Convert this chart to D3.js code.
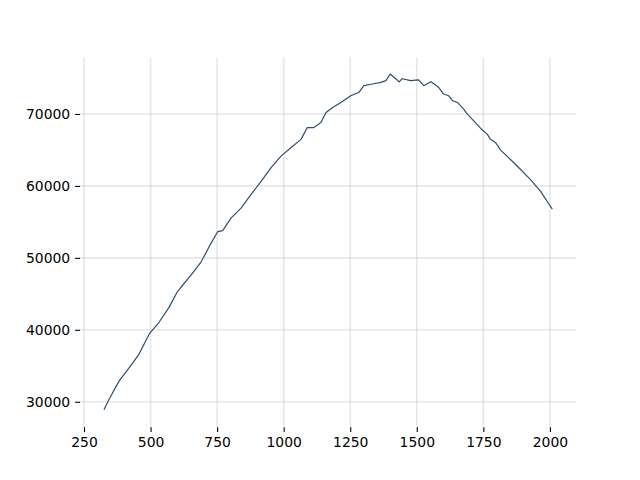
<!DOCTYPE html>
<html>
<head>
<meta charset="utf-8">
<script src="https://cdn.jsdelivr.net/npm/d3@7"></script>
<style>
  html, body { margin: 0; padding: 0; background: #fff; }
  svg { display: block; }
  .tick text { font-family: "DejaVu Sans", sans-serif; }
</style>
</head>
<body>
<svg id="chart" width="640" height="480"></svg>
<script>
// Values
const xValues = [325, 345, 382, 420, 457, 495, 532, 570, 600, 615, 652, 690, 727, 752, 771, 802, 840, 877, 915, 952, 990, 1027, 1065, 1089, 1113, 1140, 1159, 1184, 1215, 1252, 1283, 1301, 1334, 1365, 1384, 1400, 1422, 1434, 1445, 1477, 1507, 1526, 1553, 1582, 1601, 1620, 1635, 1653, 1676, 1690, 1714, 1740, 1765, 1777, 1796, 1815, 1852, 1890, 1927, 1965, 1990, 2009];
const yValues = [28900, 30380, 32900, 34760, 36630, 39430, 41050, 43150, 45250, 45950, 47590, 49450, 52020, 53640, 53780, 55520, 56920, 58780, 60640, 62510, 64140, 65310, 66470, 68110, 68110, 68810, 70210, 70910, 71610, 72530, 73010, 73930, 74170, 74400, 74630, 75560, 74870, 74450, 74900, 74630, 74730, 73930, 74490, 73700, 72770, 72530, 71830, 71600, 70670, 69970, 69030, 67990, 67170, 66470, 66010, 64980, 63670, 62280, 60880, 59240, 57840, 56780];
const xTicks = [250, 500, 750, 1000, 1250, 1500, 1750, 2000];
const yTicks = [30000, 40000, 50000, 60000, 70000];

const data = xValues.map((x, i) => ({x: x, y: yValues[i]}));

const svg = d3.select("#chart");
const plotLeft = 80, plotRight = 576, plotTop = 57.6, plotBottom = 427.2;

const x = d3.scaleLinear().domain([235, 2098]).range([plotLeft, plotRight]);
const y = d3.scaleLinear().domain([26465, 77835]).range([plotBottom, plotTop]);

// grid
const grid = svg.append("g");
grid.selectAll("line.v").data(xTicks).enter().append("line")
  .attr("x1", d => x(d)).attr("x2", d => x(d))
  .attr("y1", plotTop).attr("y2", plotBottom)
  .attr("stroke", "#b0b0b0").attr("stroke-opacity", 0.3).attr("stroke-width", 1.6);
grid.selectAll("line.h").data(yTicks).enter().append("line")
  .attr("x1", plotLeft).attr("x2", plotRight)
  .attr("y1", d => y(d)).attr("y2", d => y(d))
  .attr("stroke", "#b0b0b0").attr("stroke-opacity", 0.3).attr("stroke-width", 1.6);

// axes
const xAxis = d3.axisBottom(x).tickValues(xTicks).tickFormat(d3.format("d")).tickSize(4.9).tickPadding(4.9);
const yAxis = d3.axisLeft(y).tickValues(yTicks).tickFormat(d3.format("d")).tickSize(4.9).tickPadding(4.9);

const gx = svg.append("g").attr("transform", `translate(0,${plotBottom})`).call(xAxis);
const gy = svg.append("g").attr("transform", `translate(${plotLeft},0)`).call(yAxis);
[gx, gy].forEach(g => {
  g.select(".domain").remove();
  g.selectAll(".tick line").attr("stroke", "#000").attr("stroke-width", 1.1);
  g.selectAll(".tick text").attr("fill", "#000").style("font-size", "13.9px");
});

// line
const line = d3.line().x(d => x(d.x)).y(d => y(d.y));
svg.append("path").datum(data)
  .attr("d", line)
  .attr("fill", "none")
  .attr("stroke", "#304d6d")
  .attr("stroke-width", 1.2)
  .attr("stroke-linejoin", "round");
</script>
</body>
</html>
